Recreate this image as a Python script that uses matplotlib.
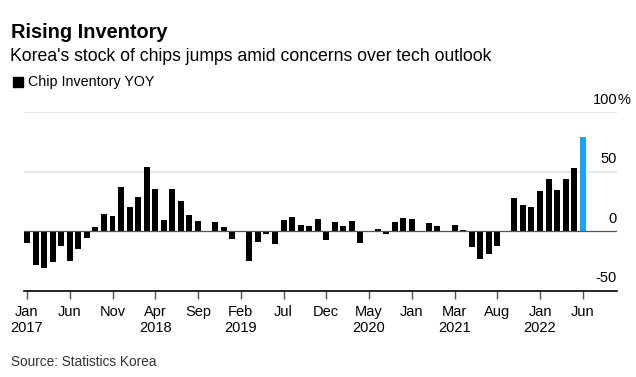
import numpy as np
import matplotlib.pyplot as plt
from matplotlib.transforms import blended_transform_factory, offset_copy

plt.rcParams['font.family'] = ['Liberation Sans', 'DejaVu Sans']

# Chip inventory YOY change (%), monthly Jan 2017 - Jun 2022
inventory_yoy = [
    -10, -28, -30.5, -25.5, -12.5, -24.7, -15, -5.3, 3.6, 15, 12.8, 37.8,   # 2017
    20.5, 28.6, 54.4, 36.1, 10, 35.3, 25.3, 14.2, 9.2, 0.4, 8.3, 3.6,       # 2018
    -6.1, 0.3, -24.7, -9.2, -2, -10.3, 9.7, 12, 5.8, 5, 10.8, -6.9,         # 2019
    8.3, 4.4, 9.2, -9.4, 0.3, 2.5, -2.2, 8.3, 11.7, 10.6, 0.3, 7.5,         # 2020
    4.4, 0.3, 5.3, 1.1, -13.3, -23.3, -18.9, -12.5, -0.3, 27.8, 21.9, 20.6, # 2021
    34.2, 44.2, 35, 44.2, 53.6, 79.4,                                        # 2022
]
tick_idx = [0, 5, 10, 15, 20, 25, 30, 35, 40, 45, 50, 55, 60, 65]
tick_labels = ['Jan\n2017', 'Jun', 'Nov', 'Apr\n2018', 'Sep', 'Feb\n2019', 'Jul',
               'Dec', 'May\n2020', 'Jan', 'Mar\n2021', 'Aug', 'Jan\n2022', 'Jun']
y_ticks = [-50, 0, 50, 100]
y_labels = ['-50', '0', '50', '100']

fig = plt.figure(figsize=(6.36, 3.77), dpi=100)
ax = fig.add_axes([24 / 636, 1 - 291 / 377, (617 - 24) / 636, (291 - 112.5) / 377])

x = np.arange(len(inventory_yoy))
colors = ['#000000'] * len(inventory_yoy)
colors[-1] = '#16a6f5'
ax.bar(x, inventory_yoy, width=0.7, color=colors, zorder=3)

ax.set_xlim(-0.35, 69)
ax.set_ylim(-50, 100)

for v in [50, 100]:
    ax.axhline(v, color='#e2e2e2', lw=1.2, zorder=1)
ax.axhline(0, color='#555555', lw=0.9, zorder=4)

for s in ['top', 'right', 'left']:
    ax.spines[s].set_visible(False)
ax.spines['bottom'].set_color('#000000')
ax.spines['bottom'].set_linewidth(1.2)

ax.set_yticks([])
ax.set_xticks(tick_idx)
ax.set_xticklabels(tick_labels, fontsize=10.5, linespacing=1.2)
ax.tick_params(axis='x', length=6, width=1, color='#555555', pad=4)

# right-side value labels, sitting above their gridlines
trans = blended_transform_factory(ax.transAxes, ax.transData)
trans = offset_copy(trans, fig=fig, x=0, y=4, units='points')
for v, lab in zip(y_ticks, y_labels):
    ax.text(1.0, v, lab, transform=trans, ha='right', va='bottom', fontsize=10.5)
ax.text(1.0, 100, '%', transform=trans, ha='left', va='bottom', fontsize=10.5)

fig.text(11 / 636, 1 - 32 / 377, 'Rising Inventory', fontsize=14.4, fontweight='bold', va='center')
fig.text(10 / 636, 1 - 56.5 / 377, "Korea's stock of chips jumps amid concerns over tech outlook",
         fontsize=12.7, va='center')
fig.patches.append(plt.Rectangle((12.7 / 636, 1 - 86.7 / 377), 10 / 636, 10 / 377,
                                 transform=fig.transFigure, color='black', figure=fig))
fig.text(28 / 636, 1 - 82 / 377, 'Chip Inventory YOY', fontsize=10.3, va='center')
fig.text(11 / 636, 1 - 362 / 377, 'Source: Statistics Korea', fontsize=9.8, va='center', color='#333333')

fig.savefig('out.png', dpi=100)
